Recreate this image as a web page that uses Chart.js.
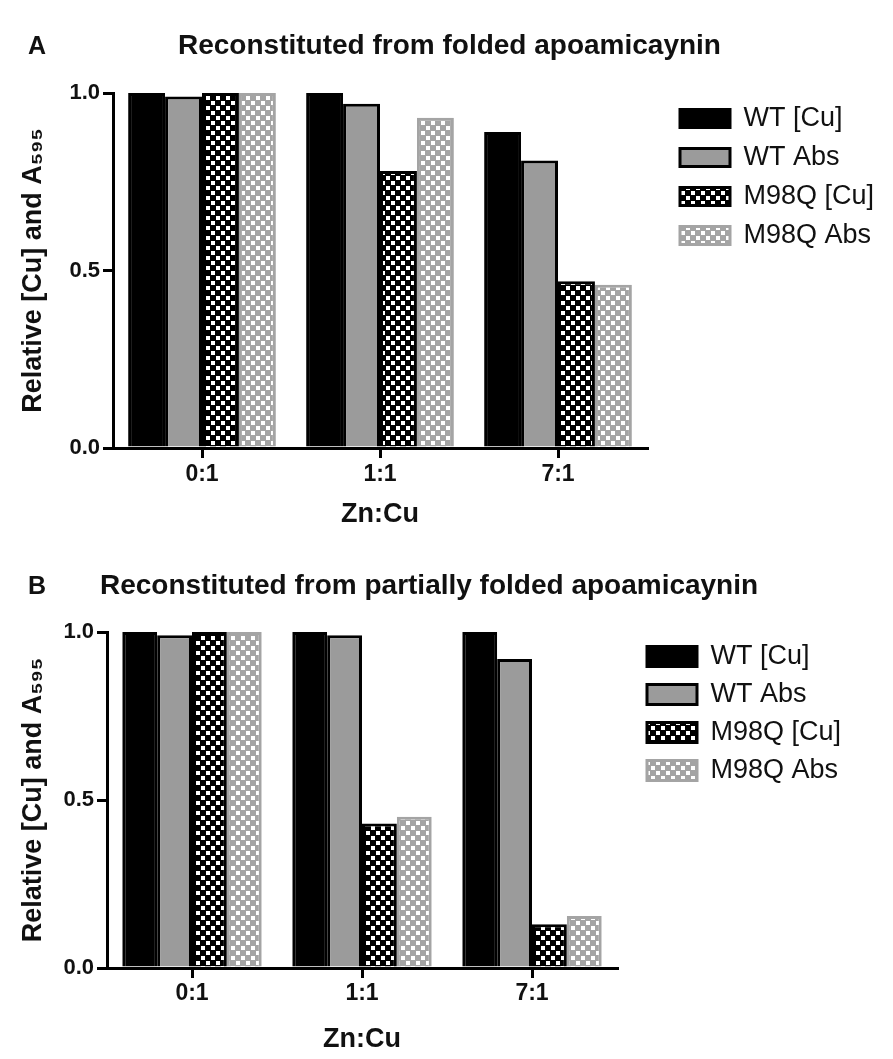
<!DOCTYPE html>
<html>
<head>
<meta charset="utf-8">
<script src="https://cdn.jsdelivr.net/npm/chart.js@4.4.1/dist/chart.umd.min.js"></script>
<style>
  html, body { margin: 0; padding: 0; background: #fff; }
  #page { position: relative; width: 893px; height: 1059px; overflow: hidden; font-family: "Liberation Sans", Arial, sans-serif; color: #111; }
  canvas { position: absolute; left: 0; }
  .panel { position: absolute; font-weight: bold; font-size: 25px; line-height: 28px; }
  .title { position: absolute; font-weight: bold; font-size: 28px; line-height: 28px; white-space: nowrap; }
</style>
</head>
<body>
<div id="page">
  <canvas id="chartA" width="893" height="555" style="top:0"></canvas>
  <canvas id="chartB" width="893" height="504" style="top:555px"></canvas>
  <div class="panel" style="left:28px; top:31px">A</div>
  <div class="title" style="left:178px; top:31px">Reconstituted from folded apoamicaynin</div>
  <div class="panel" style="left:28px; top:571px">B</div>
  <div class="title" style="left:100px; top:571px">Reconstituted from partially folded apoamicaynin</div>
</div>
<script>
  // Zn:Cu ratios on the x axis
  const categories = ['0:1', '1:1', '7:1'];
  const seriesNames = ['WT [Cu]', 'WT Abs', 'M98Q [Cu]', 'M98Q Abs'];
  const yTicks = [0, 0.5, 1.0];

  // Panel A: reconstituted from folded apoamicaynin
  const wtCuA    = [1.00, 1.00, 0.89];
  const wtAbsA   = [0.99, 0.97, 0.81];
  const m98qCuA  = [1.00, 0.78, 0.47];
  const m98qAbsA = [1.00, 0.93, 0.46];

  // Panel B: reconstituted from partially folded apoamicaynin
  const wtCuB    = [1.00, 1.00, 1.00];
  const wtAbsB   = [0.99, 0.99, 0.92];
  const m98qCuB  = [1.00, 0.43, 0.13];
  const m98qAbsB = [1.00, 0.45, 0.155];

  Chart.defaults.font.family = '"Liberation Sans", Arial, sans-serif';
  Chart.defaults.color = '#111';

  // small white-square checker tile, as in the printed figure
  function checker(base) {
    const c = document.createElement('canvas');
    c.width = 10; c.height = 10;
    const g = c.getContext('2d');
    g.fillStyle = base;
    g.fillRect(0, 0, 10, 10);
    g.fillStyle = '#fff';
    g.fillRect(1, 1, 4, 4);
    g.fillRect(6, 6, 4, 4);
    return g.createPattern(c, 'repeat');
  }

  function makeDatasets(vals) {
    const fills = ['#000', '#9b9b9b', checker('#000'), checker('#a4a4a4')];
    const borders = ['#000', '#000', '#000', '#a4a4a4'];
    return vals.map((v, i) => ({
      label: seriesNames[i],
      data: v,
      backgroundColor: fills[i],
      borderColor: borders[i],
      borderWidth: 3,
      barPercentage: 1.0,
    }));
  }

  function makeChart(id, vals, opt) {
    const ctx = document.getElementById(id).getContext('2d');
    return new Chart(ctx, {
      type: 'bar',
      data: { labels: categories, datasets: makeDatasets(vals) },
      options: {
        responsive: false,
        animation: false,
        devicePixelRatio: 1,
        datasets: { bar: { categoryPercentage: opt.catPct } },
        layout: { padding: { top: opt.top, left: 0, right: opt.padRight, bottom: 0 } },
        plugins: {
          tooltip: { enabled: false },
          legend: {
            position: 'right',
            align: 'start',
            maxWidth: 210,
            labels: {
              boxWidth: 50,
              boxHeight: opt.boxH,
              padding: opt.legPad,
              color: '#111',
              font: { size: 27 },
            },
          },
        },
        scales: {
          x: {
            type: 'category',
            offset: true,
            grid: { display: true, offset: false, drawOnChartArea: false, drawTicks: true, tickLength: 10, lineWidth: 3, color: '#000' },
            border: { display: true, width: 3, color: '#000' },
            ticks: { color: '#111', padding: opt.xTickPad, font: { size: 23, weight: 'bold' } },
            title: { display: true, text: 'Zn:Cu', color: '#111', font: { size: 27, weight: 'bold' }, padding: { top: 0, bottom: opt.xTitlePad } },
            afterFit: s => { s.height = opt.xH; },
          },
          y: {
            min: 0,
            max: 1,
            grid: { display: true, drawOnChartArea: false, drawTicks: true, tickLength: 10, lineWidth: 3, color: '#000' },
            border: { display: true, width: 3, color: '#000' },
            afterBuildTicks: s => { s.ticks = yTicks.map(v => ({ value: v })); },
            ticks: { color: '#111', padding: 3, font: { size: 22, weight: 'bold' }, callback: v => Number(v).toFixed(1) },
            title: { display: true, text: 'Relative [Cu] and A\u2085\u2089\u2085', color: '#111', font: { size: 27, weight: 'bold' }, padding: { top: 17, bottom: 0 } },
            afterFit: s => { s.width = opt.yW; },
          },
          // spacer between plot and legend
          gap: {
            type: 'linear',
            position: 'right',
            display: true,
            grid: { display: false },
            border: { display: false },
            ticks: { display: false },
            afterFit: s => { s.width = opt.gapW; },
          },
        },
      },
    });
  }

  makeChart('chartA', [wtCuA, wtAbsA, m98qCuA, m98qAbsA], {
    catPct: 0.83, top: 93, padRight: 15, yW: 113, gapW: 21, xH: 107,
    xTickPad: 3, xTitlePad: 24, boxH: 18, legPad: 12,
  });

  makeChart('chartB', [wtCuB, wtAbsB, m98qCuB, m98qAbsB], {
    catPct: 0.82, top: 77, padRight: 47, yW: 107, gapW: 19, xH: 91,
    xTickPad: 2, xTitlePad: 3, boxH: 20, legPad: 11,
  });
</script>
</body>
</html>
